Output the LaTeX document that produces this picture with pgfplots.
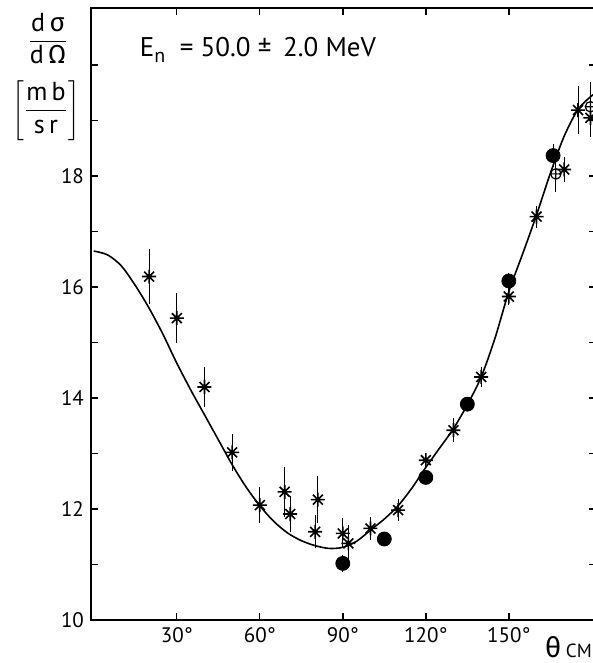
\documentclass[border=0pt]{standalone}
\usepackage{fontspec}
\setmainfont{PT Sans}
\newfontfamily\grk{Fira Sans}
\usepackage{pgfplots}
\pgfplotsset{compat=1.18}

\pgfdeclareplotmark{star8}{%
  \pgfpathmoveto{\pgfqpoint{-\pgfplotmarksize}{0pt}}\pgfpathlineto{\pgfqpoint{\pgfplotmarksize}{0pt}}%
  \pgfpathmoveto{\pgfqpoint{0pt}{-\pgfplotmarksize}}\pgfpathlineto{\pgfqpoint{0pt}{\pgfplotmarksize}}%
  \pgfpathmoveto{\pgfqpoint{-0.707\pgfplotmarksize}{-0.707\pgfplotmarksize}}\pgfpathlineto{\pgfqpoint{0.707\pgfplotmarksize}{0.707\pgfplotmarksize}}%
  \pgfpathmoveto{\pgfqpoint{-0.707\pgfplotmarksize}{0.707\pgfplotmarksize}}\pgfpathlineto{\pgfqpoint{0.707\pgfplotmarksize}{-0.707\pgfplotmarksize}}%
  \pgfusepathqstroke
  \pgfpathcircle{\pgfpointorigin}{0.3\pgfplotmarksize}\pgfusepathqfill
}

\pgfplotstableread{
x y
0 16.65
5 16.58
10 16.38
15 16.03
20 15.62
25 15.15
30 14.63
35 14.15
40 13.70
45 13.25
50 12.80
55 12.40
60 12.06
65 11.78
70 11.57
75 11.43
80 11.34
85 11.29
90 11.31
95 11.42
100 11.62
105 11.82
110 12.06
115 12.38
120 12.75
125 13.10
130 13.45
135 13.88
140 14.38
145 15.08
150 15.92
155 16.60
160 17.30
165 18.05
170 18.72
175 19.20
180 19.45
181.5 19.48
}\curve

\pgfplotstableread{
x y e
20 16.19 0.50
30 15.44 0.45
40 14.20 0.36
50 13.02 0.33
60 12.07 0.33
69 12.31 0.45
71 11.91 0.33
80 11.59 0.30
81 12.17 0.42
90 11.56 0.27
92 11.38 0.33
100 11.65 0.20
110 11.98 0.20
120 12.88 0.12
130 13.42 0.22
140 14.38 0.18
150 15.83 0.15
160 17.27 0.20
170 18.12 0.22
175 19.19 0.43
179.5 19.05 0.35
}\stars

\pgfplotstableread{
x y e
90 11.02 0.15
105 11.46 0.12
120 12.57 0.10
135 13.89 0.10
150 16.11 0.15
166 18.37 0.20
}\dots

\pgfplotstableread{
x y e
167 18.04 0.33
179.5 19.25 0.45
}\opl

\begin{document}
\begin{tikzpicture}
\begin{axis}[
  scale only axis,
  width=252.5pt, height=306pt,
  xmin=-1, xmax=181.5,
  ymin=10, ymax=21.03,
  xtick={30,60,90,120,150},
  xticklabels={30°,60°,90°,120°,150°},
  ytick={10,12,14,16,18},
  minor ytick={11,13,15,17,19,20},
  major tick length=3.5pt,
  minor tick length=3.5pt,
  tick align=inside,
  axis line style={line width=1.2pt},
  tick style={line width=0.7pt, black},
  minor tick style={line width=0.7pt, black},
  /pgf/number format/assume math mode=true,
  ticklabel style={font=\fontsize{10.5}{12}\selectfont},
  clip mode=individual,
  error bars/error bar style={line width=0.5pt},
]
\coordinate (BL) at (rel axis cs:0,0);
\coordinate (TR) at (rel axis cs:1,1);

\addplot[smooth, line width=0.8pt, black, no marks] table[x=x,y=y]{\curve};

\addplot[only marks, mark=star8, mark size=3.5pt, black, line width=0.8pt,
  error bars/.cd, y dir=both, y explicit, error mark=none]
  table[x=x,y=y,y error=e]{\stars};

\addplot[only marks, mark=*, mark size=3.5pt, black,
  error bars/.cd, y dir=both, y explicit, error mark=none]
  table[x=x,y=y,y error=e]{\dots};

\addplot[only marks, mark=oplus, mark size=2.6pt, black, line width=0.6pt,
  error bars/.cd, y dir=both, y explicit, error mark=none]
  table[x=x,y=y,y error=e]{\opl};

\node[anchor=west, font=\fontsize{13.5}{15}\selectfont] at (rel axis cs:0.083,0.931)
  {E\raisebox{-0.45ex}{\fontsize{10}{11}\selectfont n}\ \ = 50.0 ± \,2.0 MeV};

\node[font=\fontsize{13}{15}\selectfont, xshift=-21.5pt] at (rel axis cs:0,0.950)
  {$\displaystyle\frac{\mbox{d\,{\grk σ}}}{\mbox{d\,{\grk Ω}}}$};
\node[font=\fontsize{13}{15}\selectfont, xshift=-22.5pt] at (rel axis cs:0,0.832)
  {$\displaystyle\left[\frac{\mbox{m\,b}}{\mbox{s\,r}}\right]$};

\node[anchor=west, yshift=-13.8pt, inner sep=0pt] at (axis cs:163,10)
  {\fontsize{14}{15}\selectfont{\grk θ}\,\fontsize{9.5}{10}\selectfont CM};
\end{axis}
\pgfresetboundingbox
\path[use as bounding box] ([xshift=-45.5pt,yshift=-21.5pt]BL) rectangle ([xshift=-1.6pt,yshift=4pt]TR);
\end{tikzpicture}
\end{document}
